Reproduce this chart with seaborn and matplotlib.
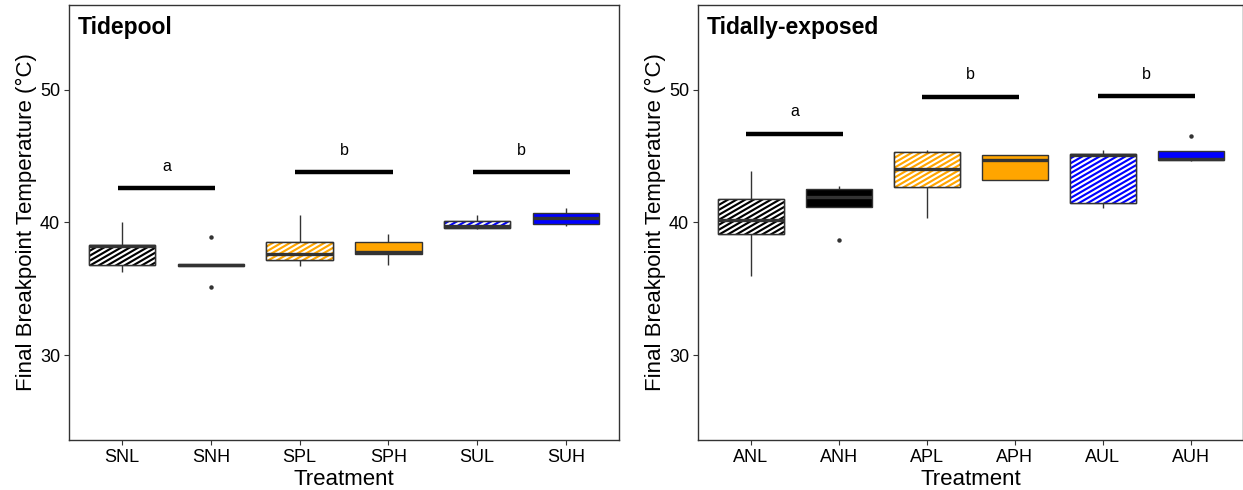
import numpy as np
import pandas as pd
import matplotlib
matplotlib.use("Agg")
import matplotlib.pyplot as plt
import seaborn as sns
from matplotlib.patches import PathPatch
from matplotlib.collections import LineCollection
from matplotlib.transforms import IdentityTransform

# ---------------- data ----------------
tide_labels = ["SNL", "SNH", "SPL", "SPH", "SUL", "SUH"]
tide_values = {
    "SNL": [36.3, 36.8, 38.2, 38.3, 40.0],
    "SNH": [35.1, 36.75, 36.8, 36.85, 38.9],
    "SPL": [36.7, 37.15, 37.6, 38.55, 40.55],
    "SPH": [36.8, 37.6, 37.8, 38.5, 39.1],
    "SUL": [39.5, 39.6, 39.7, 40.15, 40.55],
    "SUH": [39.7, 39.9, 40.35, 40.7, 41.1],
}
exp_labels = ["ANL", "ANH", "APL", "APH", "AUL", "AUH"]
exp_values = {
    "ANL": [36.0, 39.1, 40.2, 41.8, 43.9],
    "ANH": [38.66, 41.2, 41.2, 41.5, 41.9, 42.3, 42.55, 42.6, 42.75],
    "APL": [40.35, 42.67, 44.0, 45.35, 45.45],
    "APH": [43.2, 43.2, 44.7, 45.1, 45.1],
    "AUL": [41.1, 41.5, 45.1, 45.15, 45.5],
    "AUH": [44.6, 44.7, 44.7, 44.75, 44.8, 45.1, 45.4, 45.4, 46.55],
}
tide_sig_letters = ["a", "b", "b"]
tide_sig_y = [42.6, 43.8, 43.8]
exp_sig_letters = ["a", "b", "b"]
exp_sig_y = [46.7, 49.5, 49.55]

fill_colors = ["black", "black", "orange", "orange", "blue", "blue"]
hatched = [True, False, True, False, True, False]
panel_titles = ["Tidepool", "Tidally-exposed"]
y_ticks = [30, 40, 50]

# ---------------- style ----------------
sns.set_style("white")
plt.rcParams["font.family"] = ["Liberation Sans", "DejaVu Sans"]

GRAY = "#333333"
STRIPE_ANGLE = 30.0      # degrees
STRIPE_SPACING = 4.3     # px, perpendicular
STRIPE_WIDTH_PT = 1.55   # points

fig = plt.figure(figsize=(12.43, 4.90), dpi=100)
ax1 = fig.add_axes([69 / 1243, 1 - 440 / 490, (619 - 69) / 1243, (440 - 5) / 490])
ax2 = fig.add_axes([698 / 1243, 1 - 440 / 490, (1243.5 - 698) / 1243, (440 - 5) / 490])


def add_stripes(ax, box):
    bb = box.get_path().get_extents(box.get_transform())
    a = np.deg2rad(STRIPE_ANGLE)
    d = np.array([np.cos(a), np.sin(a)])
    n = np.array([-np.sin(a), np.cos(a)])
    corners = np.array([[bb.x0, bb.y0], [bb.x1, bb.y0], [bb.x0, bb.y1], [bb.x1, bb.y1]])
    proj_n = corners @ n
    proj_d = corners @ d
    segs = []
    for c in np.arange(proj_n.min() - STRIPE_SPACING, proj_n.max() + STRIPE_SPACING, STRIPE_SPACING):
        p0 = c * n + (proj_d.min() - 5) * d
        p1 = c * n + (proj_d.max() + 5) * d
        segs.append([p0, p1])
    lc = LineCollection(segs, colors="white", linewidths=STRIPE_WIDTH_PT,
                        transform=IdentityTransform(), zorder=box.get_zorder() + 0.05)
    ax.add_collection(lc, autolim=False)
    lc.set_clip_path(box.get_path(), box.get_transform())
    ol = PathPatch(box.get_path(), transform=box.get_transform(),
                   facecolor="none", edgecolor=GRAY, lw=1.0,
                   zorder=box.get_zorder() + 0.1)
    ax.add_patch(ol)


def draw_panel(ax, labels, values, letters, sig_y, title):
    rows = []
    for lab in labels:
        for v in values[lab]:
            rows.append({"Treatment": lab, "Temp": v})
    df = pd.DataFrame(rows)
    pal = dict(zip(labels, fill_colors))
    sns.boxplot(
        data=df, x="Treatment", y="Temp", hue="Treatment", order=labels,
        hue_order=labels, palette=pal, saturation=1, width=0.75,
        linecolor=GRAY, linewidth=1.0, showcaps=False, legend=False,
        medianprops={"linewidth": 2.4, "color": GRAY},
        flierprops={"marker": "o", "markersize": 2.2,
                    "markerfacecolor": GRAY, "markeredgecolor": GRAY},
        ax=ax,
    )
    ax.set_xlim(-0.6, 5.6)
    ax.set_ylim(23.6, 56.4)
    boxes = [p for p in ax.patches]
    for box, h in zip(boxes, hatched):
        if h:
            add_stripes(ax, box)
    for ln in ax.lines:
        ln.set_zorder(5)

    # significance bars
    for k, (let, yv) in enumerate(zip(letters, sig_y)):
        x0 = 2 * k - 0.05
        x1 = 2 * k + 1.05
        ax.plot([x0, x1], [yv, yv], color="black", lw=3.2, solid_capstyle="butt")
        ax.text(2 * k + 0.5, yv + 1.3, let, ha="center", va="baseline",
                fontsize=11.5, color="black")

    ax.set_yticks(y_ticks)
    ax.set_xlabel("Treatment", fontsize=16, labelpad=2, color="black")
    ax.set_ylabel("Final Breakpoint Temperature (°C)", fontsize=16,
                  labelpad=2, color="black")
    ax.tick_params(axis="both", which="major", labelsize=13, length=3.5,
                   width=0.8, color=GRAY, labelcolor="black", pad=3,
                   bottom=True, left=True, direction="out")
    for s in ax.spines.values():
        s.set_color(GRAY)
        s.set_linewidth(1.0)
        s.set_visible(True)
    ax.text(0.016, 0.975, title, transform=ax.transAxes, ha="left", va="top",
            fontsize=16.5, fontweight="bold", color="black")


draw_panel(ax1, tide_labels, tide_values, tide_sig_letters, tide_sig_y, panel_titles[0])
draw_panel(ax2, exp_labels, exp_values, exp_sig_letters, exp_sig_y, panel_titles[1])

fig.savefig("out.png", dpi=100)
